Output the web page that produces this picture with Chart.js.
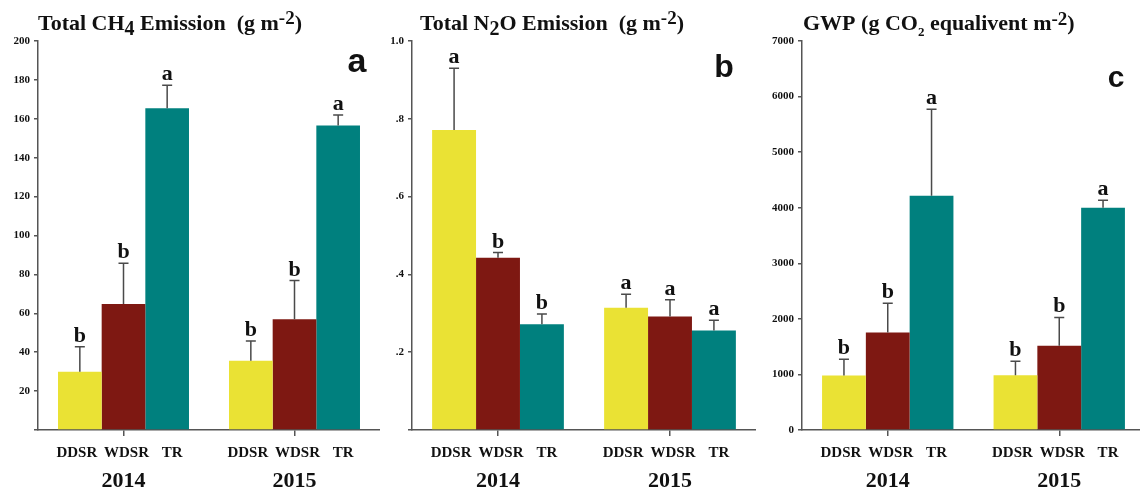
<!DOCTYPE html>
<html>
<head>
<meta charset="utf-8">
<script src="https://cdn.jsdelivr.net/npm/chart.js@4"></script>
<style>
  html, body { margin: 0; padding: 0; background: #fff; overflow: hidden; width: 1140px; height: 492px; }
  canvas { position: absolute; top: 0; }
</style>
</head>
<body>
<canvas id="chartA" width="380" height="492" style="left:0px"></canvas>
<canvas id="chartB" width="376" height="492" style="left:380px"></canvas>
<canvas id="chartC" width="385" height="492" style="left:760px"></canvas>
<script>
// Categorias
const anos = ['2014', '2015'];
const tratamentos = ['DDSR', 'WDSR', 'TR'];
const cores = ['#EAE234', '#7E1812', '#00807E'];

// CH4 (g m-2): linhas = tratamentos, colunas = anos
const ch4Media = [[30, 35.6], [64.8, 56.9], [165.4, 156.5]];
const ch4Erro = [[12.8, 10.2], [20.9, 19.9], [11.8, 5.5]];
const ch4Letras = [['b', 'b'], ['b', 'b'], ['a', 'a']];
const ch4Ticks = [0, 20, 40, 60, 80, 100, 120, 140, 160, 180, 200];

// N2O (g m-2)
const n2oMedia = [[0.771, 0.314], [0.443, 0.292], [0.272, 0.256]];
const n2oErro = [[0.159, 0.035], [0.013, 0.043], [0.026, 0.026]];
const n2oLetras = [['a', 'a'], ['b', 'a'], ['b', 'a']];
const n2oTicks = [0, 0.2, 0.4, 0.6, 0.8, 1.0];

// GWP (g CO2 eq m-2)
const gwpMedia = [[980, 985], [1755, 1514], [4216, 4000]];
const gwpErro = [[294, 253], [528, 511], [1557, 133]];
const gwpLetras = [['b', 'b'], ['b', 'b'], ['a', 'a']];
const gwpTicks = [0, 1000, 2000, 3000, 4000, 5000, 6000, 7000];

const SERIF = "'Liberation Serif', 'Times New Roman', serif";
const SANS = "'Liberation Sans', Arial, sans-serif";
const EIXO = '#555';
// deslocamento horizontal dos nomes dos tratamentos (px)
const desvioRotulo = [-3, 3, 5];

// Desenha texto com sub/sobrescrito
function textoRico(ctx, x, y, partes) {
    ctx.textAlign = 'left';
    ctx.textBaseline = 'alphabetic';
    ctx.fillStyle = '#111';
    partes.forEach(p => {
        ctx.font = `bold ${p.size}px ${SERIF}`;
        ctx.fillText(p.t, x, y + (p.dy || 0));
        x += ctx.measureText(p.t).width;
    });
}

const anotacoes = {
    id: 'anotacoes',
    afterDatasetsDraw(chart, args, opts) {
        const ctx = chart.ctx;
        const y = chart.scales.y;
        const x = chart.scales.x;
        const base = chart.chartArea.bottom;
        ctx.save();
        chart.data.datasets.forEach((ds, di) => {
            const meta = chart.getDatasetMeta(di);
            meta.data.forEach((bar, i) => {
                const yTop = y.getPixelForValue(ds.data[i] + ds.erro[i]);
                // barra de erro
                ctx.strokeStyle = '#4a4a4a';
                ctx.lineWidth = 1.5;
                ctx.beginPath();
                ctx.moveTo(bar.x, bar.y);
                ctx.lineTo(bar.x, yTop);
                ctx.moveTo(bar.x - 5, yTop);
                ctx.lineTo(bar.x + 5, yTop);
                ctx.stroke();
                // letra de significancia
                ctx.fillStyle = '#111';
                ctx.textAlign = 'center';
                ctx.textBaseline = 'alphabetic';
                ctx.font = `bold 22px ${SERIF}`;
                ctx.fillText(ds.letras[i], bar.x, yTop - 5);
                // nome do tratamento
                ctx.font = `bold 15px ${SERIF}`;
                ctx.fillText(ds.label, bar.x + desvioRotulo[di], base + 27);
            });
        });
        // anos
        ctx.font = `bold 22px ${SERIF}`;
        ctx.textAlign = 'center';
        chart.data.labels.forEach((lab, i) => {
            ctx.fillText(lab, x.getPixelForValue(i), base + 57);
        });
        // titulo
        textoRico(ctx, opts.tituloX, 30, opts.titulo);
        // letra do painel
        ctx.font = `bold ${opts.painelSize}px ${SANS}`;
        ctx.textAlign = 'center';
        ctx.fillStyle = '#111';
        ctx.fillText(opts.painel, opts.painelX, opts.painelY);
        ctx.restore();
    }
};

function criarGrafico(id, media, erro, letras, ticks, fmt, largEixo, titulo, tituloX, painel, painelX, painelY, painelSize) {
    new Chart(document.getElementById(id), {
        type: 'bar',
        data: {
            labels: anos,
            datasets: tratamentos.map((t, k) => ({
                label: t,
                data: media[k],
                erro: erro[k],
                letras: letras[k],
                backgroundColor: cores[k],
                borderWidth: 0,
                categoryPercentage: 0.766,
                barPercentage: 1.0
            }))
        },
        options: {
            responsive: false,
            animation: false,
            layout: { padding: { top: 41, right: 0, left: 0, bottom: 0 } },
            scales: {
                x: {
                    afterFit: s => { s.height = 62; },
                    ticks: { display: false },
                    grid: { drawOnChartArea: false, drawTicks: true, tickLength: 6, offset: false, color: EIXO, lineWidth: 1.5 },
                    border: { display: true, color: EIXO, width: 1.5 }
                },
                y: {
                    min: ticks[0],
                    max: ticks[ticks.length - 1],
                    afterFit: s => { s.width = largEixo; },
                    afterBuildTicks: s => { s.ticks = ticks.map(v => ({ value: v })); },
                    ticks: {
                        padding: 4,
                        color: '#111',
                        font: { family: SERIF, size: 11, weight: 'bold' },
                        callback: fmt
                    },
                    grid: { drawOnChartArea: false, drawTicks: true, tickLength: 4, color: EIXO, lineWidth: 1.5 },
                    border: { display: true, color: EIXO, width: 1.5 }
                }
            },
            plugins: {
                legend: { display: false },
                tooltip: { enabled: false },
                anotacoes: { titulo, tituloX, painel, painelX, painelY, painelSize }
            }
        },
        plugins: [anotacoes]
    });
}

criarGrafico('chartA', ch4Media, ch4Erro, ch4Letras, ch4Ticks,
    v => v === 0 ? '' : String(v), 38,
    [{ t: 'Total CH', size: 22 }, { t: '4', size: 20, dy: 5 }, { t: ' Emission  (g m', size: 22 }, { t: '-2', size: 19, dy: -6 }, { t: ')', size: 22 }],
    38, 'a', 357, 72, 34);

criarGrafico('chartB', n2oMedia, n2oErro, n2oLetras, n2oTicks,
    v => v === 0 ? '' : (v >= 1 ? '1.0' : v.toFixed(1).replace(/^0/, '')), 32,
    [{ t: 'Total N', size: 22 }, { t: '2', size: 20, dy: 5 }, { t: 'O Emission  (g m', size: 22 }, { t: '-2', size: 19, dy: -6 }, { t: ')', size: 22 }],
    40, 'b', 344, 77, 32);

criarGrafico('chartC', gwpMedia, gwpErro, gwpLetras, gwpTicks,
    v => String(v), 42,
    [{ t: 'GWP (g CO', size: 22 }, { t: '2', size: 13, dy: 6 }, { t: ' equalivent m', size: 22 }, { t: '-2', size: 19, dy: -5 }, { t: ')', size: 22 }],
    43, 'c', 356, 87, 30);
</script>
</body>
</html>
